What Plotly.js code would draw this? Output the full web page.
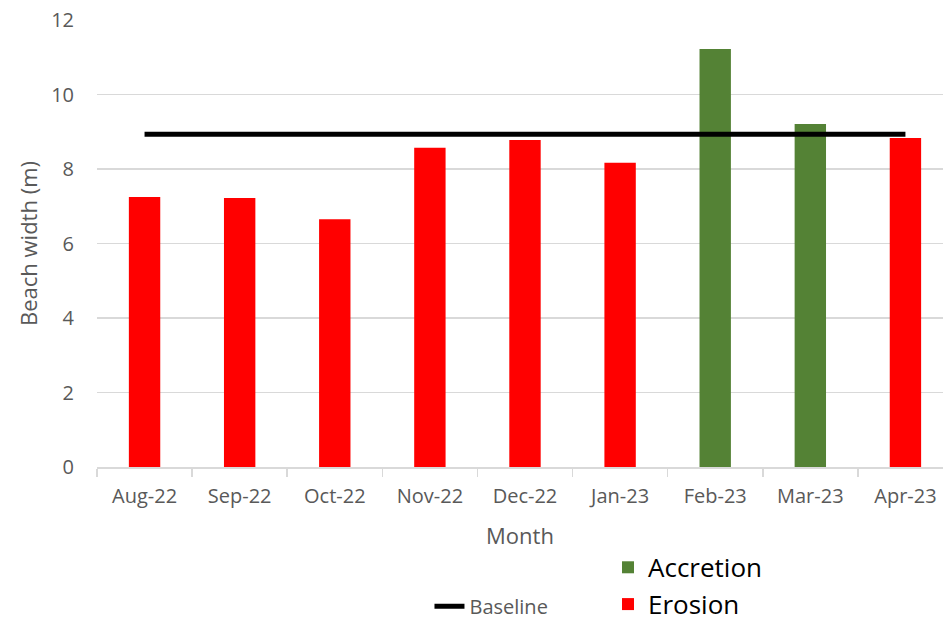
<!DOCTYPE html>
<html>
<head>
<meta charset="utf-8">
<script src="https://cdn.plot.ly/plotly-3.0.1.min.js"></script>
<style>html,body{margin:0;padding:0;background:#fff;}#chart{width:943px;height:625px;}</style>
</head>
<body>
<div id="chart"></div>
<script>
const months = ["Aug-22","Sep-22","Oct-22","Nov-22","Dec-22","Jan-23","Feb-23","Mar-23","Apr-23"];
const beachWidth = [7.25, 7.22, 6.65, 8.57, 8.78, 8.17, 11.22, 9.21, 8.83];
const status = ["Erosion","Erosion","Erosion","Erosion","Erosion","Erosion","Accretion","Accretion","Erosion"];
const baseline = [8.93, 8.93, 8.93, 8.93, 8.93, 8.93, 8.93, 8.93, 8.93];

const accretion = beachWidth.map((v, i) => status[i] === "Accretion" ? v : null);
const erosion = beachWidth.map((v, i) => status[i] === "Erosion" ? v : null);

const font = "'Open Sans', 'Noto Sans', sans-serif";
const grey = "#595959";

const traces = [
  {type: "bar", name: "Accretion", x: months, y: accretion, width: 0.33,
   marker: {color: "#548235"}, legend: "legend2", hoverinfo: "x+y"},
  {type: "bar", name: "Erosion", x: months, y: erosion, width: 0.33,
   marker: {color: "#FF0000"}, legend: "legend2", hoverinfo: "x+y"},
  {type: "scatter", mode: "lines", name: "Baseline", x: months, y: baseline,
   line: {color: "#000000", width: 5}, legend: "legend"}
];

const layout = {
  width: 943, height: 625,
  margin: {l: 97, r: 0, t: 20, b: 158, autoexpand: false},
  paper_bgcolor: "#fff", plot_bgcolor: "#fff",
  font: {family: font, color: grey, size: 19},
  barmode: "overlay",
  showlegend: true,
  xaxis: {
    type: "category", range: [-0.5, 8.395], automargin: false,
    showline: true, linecolor: "#d9d9d9", linewidth: 1.5,
    ticks: "outside", tickson: "boundaries", ticklen: 8, tickcolor: "#d9d9d9", tickwidth: 1.5,
    tickfont: {family: font, size: 20, color: grey},
    ticklabelstandoff: 10,
    showgrid: false, zeroline: false,
    title: {text: "Month", font: {family: font, size: 22, color: grey}}
  },
  yaxis: {
    range: [0, 12], dtick: 2, tick0: 0, automargin: false,
    showgrid: true, gridcolor: "#d9d9d9", gridwidth: 1.5,
    zeroline: false, showline: false, ticks: "",
    tickfont: {family: font, size: 20, color: grey},
    ticklabelstandoff: 22,
    title: {text: "Beach width (m)", font: {family: font, size: 22, color: grey}, standoff: 7}
  },
  legend: {
    x: 0.393, xanchor: "left", y: -0.3115, yanchor: "middle",
    font: {family: font, size: 20, color: grey}, bgcolor: "rgba(0,0,0,0)"
  },
  legend2: {
    x: 0.604, xanchor: "left", y: -0.172, yanchor: "top",
    font: {family: font, size: 26, color: "#000"}, bgcolor: "rgba(0,0,0,0)",
    traceorder: "normal", tracegroupgap: 0
  }
};

Plotly.newPlot("chart", traces, layout, {displayModeBar: false, staticPlot: true});
</script>
</body>
</html>
